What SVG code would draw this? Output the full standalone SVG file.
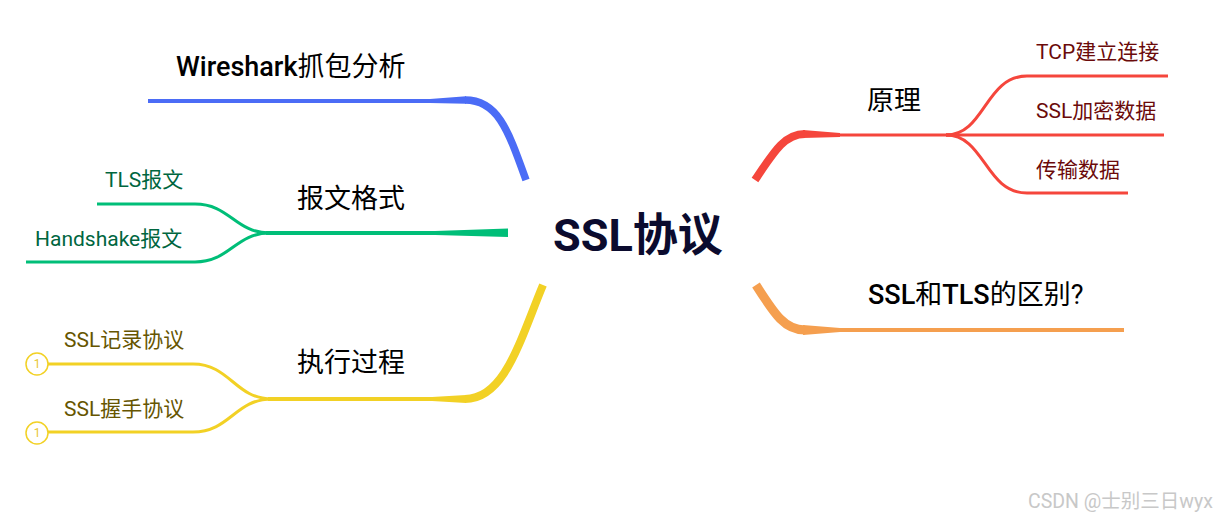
<svg xmlns="http://www.w3.org/2000/svg" width="1219" height="523" viewBox="0 0 1219 523">
<defs>
<style>
text{font-family:Roboto,"Noto Sans CJK SC",sans-serif}
.root{font-size:45px;font-weight:700;fill:#0b0b2e}
.main{font-size:27px;font-weight:400;fill:#000}
.lat{font-weight:500}
.sub{font-size:21px;font-weight:400}
.blue{stroke:#4b6cf6;fill:none}
.green{stroke:#00be78;fill:none}
.yellow{stroke:#f2d125;fill:none}
.red{stroke:#f5463c;fill:none}
.orange{stroke:#f59f4f;fill:none}
.num{font-size:12px;fill:#e8c630;text-anchor:middle}
.wm{font-size:19.5px;fill:#c8c8c8}
</style>
</defs>
<rect width="1219" height="523" fill="#fff"/>
<g id="connectors">
<!-- blue -->
<path class="blue" d="M526 180 C508 130 498 100 465 100" stroke-width="7.5"/>
<path d="M466 96.3 L430 99 L430 103 L466 103.8 Z" fill="#4b6cf6"/>
<path class="blue" d="M432 101 H148" stroke-width="4"/>
<!-- green -->
<path d="M508 228.5 L508 237 L435 235 L435 231 Z" fill="#00be78"/>
<path class="green" d="M437 233 H266" stroke-width="4"/>
<path class="green" d="M270 233 C235 233 230 204 195 204 H97" stroke-width="3"/>
<path class="green" d="M270 233 C235 233 230 262 195 262 H26" stroke-width="3"/>
<!-- yellow -->
<path class="yellow" d="M543 285 C520 340 505 399 465 399" stroke-width="8"/>
<path d="M466 395 L432 397 L432 401 L466 403 Z" fill="#f2d125"/>
<path class="yellow" d="M434 399 H268" stroke-width="4"/>
<path class="yellow" d="M272 399 C235 399 230 364 193 364 H48" stroke-width="3"/>
<path class="yellow" d="M272 399 C235 399 230 432 193 432 H48" stroke-width="3"/>
<circle cx="37" cy="364" r="11" fill="#fff" stroke="#f2d125" stroke-width="1.5"/>
<circle cx="37" cy="433" r="11" fill="#fff" stroke="#f2d125" stroke-width="1.5"/>
<!-- red -->
<path class="red" d="M755 180 C775 150 785 134 805 134" stroke-width="8"/>
<path d="M803 130 L840 133 L840 137 L803 138 Z" fill="#f5463c"/>
<path class="red" d="M838 135 H950" stroke-width="3"/>
<path class="red" d="M946 135 C985 135 985 76 1027 76 H1168" stroke-width="3"/>
<path class="red" d="M946 135 H1164" stroke-width="3"/>
<path class="red" d="M946 135 C985 135 985 193 1027 193 H1128" stroke-width="3"/>
<!-- orange -->
<path class="orange" d="M756 285 C775 315 785 330 805 330" stroke-width="9"/>
<path d="M803 325 L840 328 L840 332 L803 335 Z" fill="#f59f4f"/>
<path class="orange" d="M838 330 H1124" stroke-width="4"/>
</g>
<g id="root"><text class="root" x="553" y="251">SSL协议</text></g>
<g id="n-wireshark"><text class="main" x="176" y="76"><tspan class="lat">Wireshark</tspan>抓包分析</text></g>
<g id="n-format"><text class="main" x="297" y="208">报文格式</text></g>
<g id="n-tls"><text class="sub" x="105" y="187" fill="#00663f">TLS报文</text></g>
<g id="n-handshake"><text class="sub" x="35" y="246" fill="#00663f">Handshake报文</text></g>
<g id="n-process"><text class="main" x="297" y="372">执行过程</text></g>
<g id="n-record"><text class="sub" x="64" y="347" fill="#665500">SSL记录协议</text><text class="num" x="37" y="368">1</text></g>
<g id="n-hs"><text class="sub" x="64" y="416" fill="#665500">SSL握手协议</text><text class="num" x="37" y="437">1</text></g>
<g id="n-principle"><text class="main" x="867" y="110">原理</text></g>
<g id="n-tcp"><text class="sub" x="1036" y="59" fill="#6b0a0a">TCP建立连接</text></g>
<g id="n-enc"><text class="sub" x="1036" y="118" fill="#6b0a0a">SSL加密数据</text></g>
<g id="n-trans"><text class="sub" x="1036" y="177" fill="#6b0a0a">传输数据</text></g>
<g id="n-diff"><text class="main" x="868" y="304"><tspan class="lat">SSL</tspan>和<tspan class="lat">TLS</tspan>的区别?</text></g>
<g id="watermark"><text class="wm" x="1028" y="508">CSDN @士别三日wyx</text></g>
</svg>
